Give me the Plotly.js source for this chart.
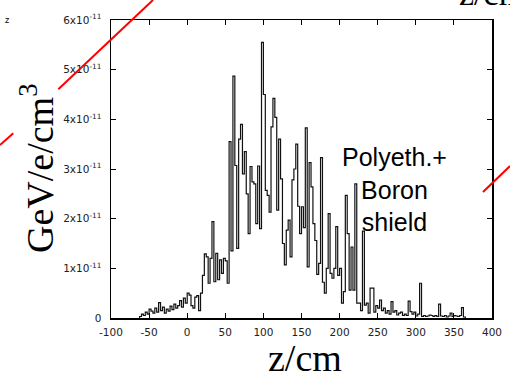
<!DOCTYPE html>
<html>
<head>
<meta charset="utf-8">
<script src="https://cdn.plot.ly/plotly-3.0.1.min.js"></script>
<style>html,body{margin:0;padding:0;background:#fff;}#chart{width:510px;height:382px;}</style>
</head>
<body>
<div id="chart"></div>
<script>
// bin left edges (cm)
var binEdges = [
-62.5,-60,-57.5,-55,-52.5,-50,-47.5,-45,-42.5,-40,-37.5,-35,-32.5,-30,-27.5,-25,-22.5,-20,-17.5,-15,-12.5,-10,-7.5,-5,-2.5,
0,2.5,5,7.5,10,12.5,15,17.5,20,22.5,25,27.5,30,32.5,35,37.5,40,42.5,45,47.5,
50,52.5,55,57.5,60,62.5,65,67.5,70,72.5,75,77.5,80,82.5,85,87.5,90,92.5,95,97.5,
100,102.5,105,107.5,110,112.5,115,117.5,120,122.5,125,127.5,130,132.5,135,137.5,140,142.5,145,147.5,
150,152.5,155,157.5,160,162.5,165,167.5,170,172.5,175,177.5,180,182.5,185,187.5,190,192.5,195,197.5,
200,202.5,205,207.5,210,212.5,215,217.5,220,222.5,225,227.5,230,232.5,235,237.5,240,242.5,245,247.5,
250,252.5,255,257.5,260,262.5,265,267.5,270,272.5,275,277.5,280,282.5,285,287.5,290,292.5,295,297.5,
300,302.5,305,307.5,310,312.5,315,317.5,320,322.5,325,327.5,330,332.5,335,337.5,340,342.5,345,347.5,
350,352.5,355,357.5,360,362.5
];
var lastEdge = 365;
// energy deposit, units of 1e-11 GeV/e/cm^3
var dose = [
0.03,0.08,0.05,0.12,0.08,0.18,0.14,0.10,0.20,0.12,0.31,0.15,0.22,0.10,0.18,0.14,0.24,0.17,0.28,0.20,0.25,0.35,0.22,0.40,0.30,
0.50,0.46,0.25,0.20,0.42,0.45,0.15,0.50,0.86,1.29,1.23,0.70,1.20,1.94,0.73,1.30,0.77,1.17,0.90,1.20,
1.15,0.70,3.55,1.35,4.87,3.07,1.40,3.60,3.90,2.90,3.35,2.50,1.70,3.05,2.74,2.70,1.90,3.06,1.80,5.55,
4.50,2.57,2.47,2.13,3.85,4.42,4.04,2.17,3.60,2.80,1.50,1.07,1.77,1.97,1.23,2.78,3.00,3.50,2.25,1.70,
2.24,1.82,3.83,1.03,3.13,2.64,1.90,1.56,0.88,1.10,3.23,0.72,0.50,1.00,2.10,0.90,0.80,1.00,1.84,0.86,
1.00,0.30,0.53,2.47,1.70,0.56,1.43,0.56,2.70,0.30,0.30,0.15,1.75,0.26,0.30,0.10,0.60,0.60,0.12,0.25,
0.20,0.36,0.15,0.20,0.10,0.15,0.08,0.33,0.12,0.15,0.06,0.10,0.12,0.05,0.08,0.05,0.34,0.13,0.08,0.12,
0.04,0.08,0.70,0.03,0.05,0.03,0.04,0.06,0.05,0.03,0.05,0.03,0.28,0.04,0.03,0.05,0.02,0.04,0.10,0.03,
0.05,0.04,0.03,0.05,0.21,0.02
];
var xTickVals = [-100,-50,0,50,100,150,200,250,300,350,400];
var xTickText = ['-100','-50','0','50','100','150','200','250','300','350','400'];
var yTickVals = [0,1,2,3,4,5,6];
var yTickText = ['0','1x10<sup>-11</sup>','2x10<sup>-11</sup>','3x10<sup>-11</sup>','4x10<sup>-11</sup>','5x10<sup>-11</sup>','6x10<sup>-11</sup>'];

var xs = [binEdges[0]].concat(binEdges, [lastEdge]);
var ys = [0].concat(dose, [0]);

var trace = {
  x: xs, y: ys, type: 'scatter', mode: 'lines',
  line: {shape: 'hv', color: '#111', width: 1.2},
  hoverinfo: 'skip'
};

function px(x){ return (x-111)/381; }
function py(y){ return (318-y)/298; }

var layout = {
  width: 510, height: 382,
  margin: {l: 111, r: 18, t: 20, b: 64},
  paper_bgcolor: '#fff', plot_bgcolor: '#fff',
  showlegend: false,
  font: {family: 'DejaVu Sans', size: 10.5, color: '#222'},
  xaxis: {
    range: [-100, 400], tickvals: xTickVals, ticktext: xTickText, ticks: 'inside', ticklen: 5,
    tickcolor: '#000', showline: true, linecolor: '#000', linewidth: 1.5,
    mirror: 'allticks', showgrid: false, zeroline: false, ticklabelstandoff: 4
  },
  yaxis: {
    range: [0, 6], tickvals: yTickVals, ticktext: yTickText, ticks: 'inside', ticklen: 5,
    tickcolor: '#000', showline: true, linecolor: '#000', linewidth: 1.5,
    mirror: 'allticks', showgrid: false, zeroline: false, ticklabelstandoff: 6
  },
  annotations: [
    {text: 'GeV/e/cm<sup>3</sup>', xref: 'paper', yref: 'paper', x: px(37), y: py(169),
     xanchor: 'center', yanchor: 'middle', textangle: -90, showarrow: false,
     font: {family: 'Liberation Serif', size: 38, color: '#000'}},
    {text: 'z/cm', xref: 'paper', yref: 'paper', x: px(305), y: py(358),
     xanchor: 'center', yanchor: 'middle', showarrow: false,
     font: {family: 'Liberation Serif', size: 38, color: '#000'}},
    {text: 'Polyeth.+<br>Boron<br>shield', xref: 'paper', yref: 'paper', x: px(394), y: py(189),
     xanchor: 'center', yanchor: 'middle', showarrow: false, align: 'center',
     font: {family: 'Liberation Sans', size: 25, color: '#000'}},
    {text: 'z/cm', xref: 'paper', yref: 'paper', x: px(457), y: py(14),
     xanchor: 'left', yanchor: 'bottom', showarrow: false,
     font: {family: 'Liberation Serif', size: 34, color: '#000'}},
    {text: 'z', xref: 'paper', yref: 'paper', x: px(7), y: py(20),
     xanchor: 'center', yanchor: 'middle', showarrow: false,
     font: {family: 'DejaVu Sans', size: 8, color: '#000'}}
  ],
  shapes: [
    {type: 'line', xref: 'paper', yref: 'paper', x0: px(0), y0: py(145), x1: px(13.3), y1: py(133.3),
     line: {color: '#ff0000', width: 2}},
    {type: 'line', xref: 'paper', yref: 'paper', x0: px(58.3), y0: py(89.3), x1: px(153), y1: py(0),
     line: {color: '#ff0000', width: 2}},
    {type: 'line', xref: 'paper', yref: 'paper', x0: px(483), y0: py(192), x1: px(510), y1: py(166),
     line: {color: '#ff0000', width: 2}}
  ]
};

Plotly.newPlot('chart', [trace], layout, {displayModeBar: false, staticPlot: true});
</script>
</body>
</html>
